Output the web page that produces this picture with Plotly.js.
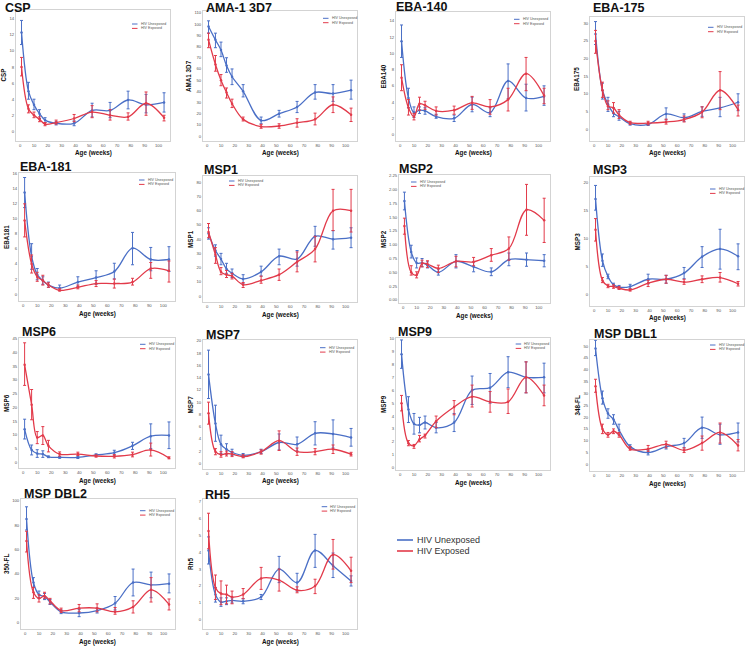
<!DOCTYPE html>
<html><head><meta charset="utf-8">
<script src="https://cdn.plot.ly/plotly-3.0.1.min.js"></script>
<style>html,body{margin:0;padding:0;background:#fff;} #chart{width:750px;height:646px;}</style>
</head><body><div id="chart"></div>
<script>
// ---------- DATA ----------
const weeks = [1, 6, 10, 14, 18, 26, 39, 52, 65, 78, 91, 104];
const seriesNames = ["HIV Unexposed", "HIV Exposed"];
const panelTitles = ["CSP", "AMA-1 3D7", "EBA-140", "EBA-175", "EBA-181", "MSP1", "MSP2", "MSP3", "MSP6", "MSP7", "MSP9", "MSP DBL1", "MSP DBL2", "RH5"];
const yAxisTitles = ["CSP", "AMA1 3D7", "EBA140", "EBA175", "EBA181", "MSP1", "MSP2", "MSP3", "MSP6", "MSP7", "MSP9", "348-FL", "350-FL", "Rh5"];
const xAxisTitle = "Age (weeks)";
const xTickLabels = [0, 10, 20, 30, 40, 50, 60, 70, 80, 90, 100];

const cspUnexposedMean = [12.3, 5.0, 3.3, 2.2, 1.4, 1.0, 1.0, 2.6, 2.6, 3.9, 3.3, 3.6];
const cspUnexposedLow  = [10.8, 4.0, 2.7, 1.6, 1.1, 0.8, 0.7, 1.8, 1.7, 2.8, 2.3, 2.4];
const cspUnexposedHigh = [13.8, 6.1, 4.0, 2.7, 1.7, 1.2, 1.3, 3.5, 3.6, 5.0, 4.6, 4.8];
const cspExposedMean = [8.0, 2.8, 2.0, 1.5, 0.9, 1.1, 1.6, 2.4, 2.0, 1.8, 3.5, 1.7];
const cspExposedLow  = [6.9, 2.3, 1.7, 1.2, 0.7, 0.9, 1.2, 1.7, 1.4, 1.4, 2.0, 1.3];
const cspExposedHigh = [9.2, 3.3, 2.4, 1.8, 1.1, 1.4, 2.1, 3.2, 2.7, 2.3, 4.9, 2.0];

const amaUnexposedMean = [98, 86, 77, 63, 53, 40, 14, 20, 26, 39, 38, 41];
const amaUnexposedLow  = [92, 79, 71, 57, 46, 35, 11, 17, 21, 33, 31, 33];
const amaUnexposedHigh = [103, 92, 84, 70, 60, 46, 17, 23, 31, 46, 46, 50];
const amaExposedMean = [86, 64, 50, 39, 29, 15, 8.5, 9, 12, 15, 28, 19];
const amaExposedLow  = [79, 58, 45, 34, 25.5, 13.5, 7, 7, 8, 10, 21, 13];
const amaExposedHigh = [92, 72, 55, 43, 33, 17, 10.5, 11, 15.5, 20.5, 35, 25];

const eba140UnexposedMean = [11.5, 4.5, 2.7, 3.0, 2.9, 2.2, 2.0, 3.7, 2.7, 6.6, 4.5, 4.7];
const eba140UnexposedLow  = [9.5, 3.3, 2.1, 2.6, 2.5, 2.0, 1.6, 2.8, 2.2, 4.4, 2.9, 3.6];
const eba140UnexposedHigh = [13.5, 5.7, 3.4, 3.4, 3.3, 2.5, 2.4, 4.6, 3.3, 8.7, 6.2, 6.0];
const eba140ExposedMean = [7.0, 3.3, 2.2, 3.8, 3.6, 2.9, 3.0, 3.9, 3.4, 4.3, 7.5, 4.8];
const eba140ExposedLow  = [5.4, 2.4, 1.8, 3.0, 3.1, 2.4, 2.5, 3.1, 2.5, 2.9, 5.4, 3.8];
const eba140ExposedHigh = [8.6, 4.3, 2.6, 4.6, 4.1, 3.4, 3.5, 4.7, 4.3, 5.7, 9.5, 5.7];

const eba175UnexposedMean = [27, 11, 7, 4.5, 3.5, 1.5, 1.3, 4.3, 3.2, 5, 6, 7.6];
const eba175UnexposedLow  = [24, 8.5, 5, 3.5, 2.5, 1.1, 1.0, 2.6, 2.2, 3.6, 3.5, 5.2];
const eba175UnexposedHigh = [30.5, 13, 9, 6, 5, 1.9, 1.6, 6, 4.3, 6.3, 9, 10];
const eba175ExposedMean = [25, 11, 6.5, 6, 4, 1.8, 1.7, 2, 2.7, 4.8, 11, 5.5];
const eba175ExposedLow  = [21.5, 9, 5.5, 4.5, 3, 1.3, 1.2, 1.4, 2, 3.2, 5.5, 3.7];
const eba175ExposedHigh = [28, 13.3, 8, 7.5, 5.5, 2.2, 2.2, 2.8, 3.7, 6.3, 16.3, 6.8];

const eba181UnexposedMean = [13.5, 5.0, 2.6, 1.8, 1.2, 0.8, 1.6, 2.2, 3.0, 6.1, 4.6, 4.6];
const eba181UnexposedLow  = [11.5, 3.3, 1.9, 1.3, 0.9, 0.5, 1.0, 1.3, 2.0, 3.9, 3.1, 3.0];
const eba181UnexposedHigh = [15.5, 6.7, 3.4, 2.3, 1.6, 1.2, 2.3, 3.1, 4.1, 8.2, 6.2, 6.3];
const eba181ExposedMean = [9.8, 4.0, 2.3, 1.8, 1.2, 0.5, 0.9, 1.4, 1.4, 1.6, 3.4, 3.1];
const eba181ExposedLow  = [7.6, 2.8, 1.7, 1.2, 0.9, 0.4, 0.7, 1.0, 0.8, 1.2, 2.1, 1.6];
const eba181ExposedHigh = [12.0, 5.2, 2.9, 2.5, 1.5, 0.7, 1.2, 1.8, 2.0, 2.1, 4.2, 4.4];

const msp1UnexposedMean = [44, 32, 26, 19, 16, 12, 17, 28, 26, 42, 40, 41];
const msp1UnexposedLow  = [40, 28, 22, 16, 13, 9, 14, 22, 21, 35, 33, 34];
const msp1UnexposedHigh = [48, 36, 30, 23, 19, 15, 21, 33, 32, 49, 46, 48];
const msp1ExposedMean = [45, 29, 17, 15, 14, 8, 11, 15, 24, 33, 60, 60];
const msp1ExposedLow  = [41, 23, 15, 13, 12, 6, 9, 11, 17, 24, 46, 45];
const msp1ExposedHigh = [51, 34, 20, 18, 16, 9.5, 14, 19, 31, 42, 75, 75];

const msp2UnexposedMean = [1.79, 0.87, 0.67, 0.67, 0.63, 0.50, 0.70, 0.60, 0.51, 0.73, 0.73, 0.71];
const msp2UnexposedLow  = [1.63, 0.76, 0.58, 0.60, 0.58, 0.45, 0.58, 0.51, 0.44, 0.62, 0.61, 0.60];
const msp2UnexposedHigh = [1.95, 0.99, 0.76, 0.75, 0.69, 0.56, 0.82, 0.69, 0.58, 0.85, 0.85, 0.82];
const msp2ExposedMean = [1.34, 0.50, 0.45, 0.66, 0.65, 0.57, 0.70, 0.69, 0.81, 0.93, 1.63, 1.44];
const msp2ExposedLow  = [1.19, 0.45, 0.40, 0.60, 0.59, 0.50, 0.60, 0.62, 0.70, 0.72, 1.17, 1.04];
const msp2ExposedHigh = [1.48, 0.62, 0.51, 0.72, 0.71, 0.63, 0.79, 0.77, 0.93, 1.14, 2.09, 1.84];

const msp3UnexposedMean = [17, 6, 3.2, 1.7, 1.3, 1.4, 2.7, 2.7, 3.8, 6.7, 8.1, 6.8];
const msp3UnexposedLow  = [15, 5, 2.8, 1.4, 1.0, 1.0, 1.9, 2.0, 2.8, 4.8, 4.5, 4.4];
const msp3UnexposedHigh = [19.4, 7.2, 3.6, 2.0, 1.6, 1.8, 3.6, 3.4, 4.8, 8.5, 11.6, 9.0];
const msp3ExposedMean = [11.5, 2.5, 1.5, 1.4, 1.1, 0.8, 2.0, 2.7, 2.2, 2.7, 3.0, 1.9];
const msp3ExposedLow  = [9.5, 2.1, 1.2, 1.1, 0.9, 0.6, 1.4, 2.0, 1.8, 2.1, 2.2, 1.5];
const msp3ExposedHigh = [13.5, 3.0, 1.8, 1.7, 1.4, 1.0, 2.5, 3.4, 2.7, 3.3, 3.9, 2.3];

const msp6UnexposedMean = [12, 4.5, 3.2, 3.0, 2.0, 1.8, 1.8, 2.7, 3.5, 6.0, 9.5, 9.8];
const msp6UnexposedLow  = [8.5, 2.7, 1.8, 1.8, 1.7, 1.5, 1.4, 2.3, 2.6, 4.7, 5.0, 5.0];
const msp6UnexposedHigh = [15.7, 6.3, 4.6, 4.2, 2.3, 2.1, 2.2, 3.1, 4.4, 7.3, 14.0, 14.7];
const msp6ExposedMean = [35.5, 21, 9.0, 9.8, 6.0, 3.0, 3.0, 2.3, 2.2, 2.8, 4.5, 1.6];
const msp6ExposedLow  = [28, 15.5, 6.8, 6.5, 3.8, 2.3, 2.5, 1.9, 1.6, 2.0, 2.3, 1.3];
const msp6ExposedHigh = [43.5, 26.5, 11.2, 13.0, 8.0, 3.8, 3.7, 2.7, 2.8, 3.7, 7.0, 2.0];

const msp7UnexposedMean = [14.5, 6.5, 3.1, 2.3, 1.8, 1.3, 1.9, 3.4, 3.1, 4.9, 4.8, 4.2];
const msp7UnexposedLow  = [10.6, 3.6, 1.6, 1.5, 1.3, 1.0, 1.6, 2.2, 2.0, 3.0, 2.5, 2.8];
const msp7UnexposedHigh = [18.5, 9.5, 4.6, 3.2, 2.3, 1.6, 2.3, 4.8, 4.3, 6.8, 7.1, 5.7];
const msp7ExposedMean = [8.2, 1.9, 1.4, 1.6, 1.5, 1.1, 1.9, 3.7, 1.9, 1.9, 2.3, 1.5];
const msp7ExposedLow  = [6.4, 1.4, 1.0, 1.2, 1.1, 0.9, 1.5, 2.1, 1.3, 1.4, 1.6, 1.2];
const msp7ExposedHigh = [10.0, 2.4, 1.9, 2.0, 1.9, 1.4, 2.2, 5.3, 2.5, 2.4, 3.0, 1.8];

const msp9UnexposedMean = [8.8, 4.5, 3.4, 3.3, 3.5, 3.1, 3.5, 6.0, 6.2, 7.4, 7.0, 7.0];
const msp9UnexposedLow  = [7.7, 3.5, 2.6, 2.7, 3.0, 2.7, 2.8, 4.9, 5.0, 6.2, 5.8, 5.8];
const msp9UnexposedHigh = [9.9, 5.5, 4.2, 3.9, 4.0, 3.5, 4.2, 7.1, 7.3, 8.6, 8.2, 8.1];
const msp9ExposedMean = [5.0, 1.9, 1.7, 2.2, 2.5, 3.6, 4.7, 5.5, 5.1, 5.1, 7.0, 5.6];
const msp9ExposedLow  = [4.4, 1.7, 1.5, 2.0, 2.3, 3.1, 4.1, 4.7, 4.3, 4.2, 5.8, 4.8];
const msp9ExposedHigh = [5.6, 2.1, 1.8, 2.5, 2.6, 4.0, 5.2, 6.4, 5.9, 6.1, 8.2, 6.4];

const dbl1UnexposedMean = [49, 28, 21.5, 19, 14.5, 7.5, 5, 7.5, 9, 15.5, 12.5, 13.5];
const dbl1UnexposedLow  = [46, 25.5, 19.5, 17, 12.5, 6.8, 4, 6.5, 7, 11, 8.5, 9.5];
const dbl1UnexposedHigh = [52.5, 31, 23.5, 21, 17, 8.3, 6, 8.5, 11, 20, 17, 17.5];
const dbl1ExposedMean = [33, 15, 12.5, 14, 12.5, 6.5, 6.5, 8.5, 6, 9, 13.5, 8];
const dbl1ExposedLow  = [30.5, 13, 11.5, 13, 11.5, 6, 5.5, 7, 5, 6, 9, 5.7];
const dbl1ExposedHigh = [36, 17, 13.5, 15, 13.5, 7.5, 8, 9.8, 7, 12, 17.5, 10.5];

const dbl2UnexposedMean = [85, 33, 23, 21.5, 17, 9, 8, 10, 16, 33, 31, 32];
const dbl2UnexposedLow  = [76, 29, 20, 19, 15, 7.5, 5, 8, 10.5, 22, 20.5, 24.5];
const dbl2UnexposedHigh = [95, 37, 26, 24, 19, 10.5, 11, 12, 21.5, 44, 41.5, 40];
const dbl2ExposedMean = [67, 25, 20, 22, 18, 10, 12, 12, 9, 13, 27, 15];
const dbl2ExposedLow  = [58, 20, 17, 20, 15.5, 8.5, 9, 9, 7, 8, 17, 10.5];
const dbl2ExposedHigh = [75, 29, 23, 25, 20, 12, 15, 15.5, 12.5, 18, 37, 19.5];

const rh5UnexposedMean = [4.1, 1.5, 1.05, 1.1, 1.15, 1.1, 1.35, 3.0, 2.2, 4.1, 3.2, 2.3];
const rh5UnexposedLow  = [3.3, 1.05, 0.8, 0.9, 1.0, 0.95, 1.2, 2.2, 1.7, 3.1, 2.5, 2.0];
const rh5UnexposedHigh = [4.9, 1.9, 1.3, 1.3, 1.3, 1.25, 1.5, 3.75, 2.75, 5.05, 3.95, 2.6];
const rh5ExposedMean = [5.25, 1.9, 1.55, 1.5, 1.35, 1.5, 2.45, 2.35, 1.75, 2.0, 3.85, 2.9];
const rh5ExposedLow  = [4.2, 1.2, 0.9, 0.95, 0.95, 1.25, 1.8, 1.7, 1.6, 1.55, 3.0, 2.2];
const rh5ExposedHigh = [6.3, 2.65, 2.3, 2.05, 1.7, 1.85, 3.1, 3.0, 1.95, 2.4, 4.75, 3.7];

// ---------- BUILD ----------
const panelSeries = [
  [[cspUnexposedMean, cspUnexposedLow, cspUnexposedHigh], [cspExposedMean, cspExposedLow, cspExposedHigh]],
  [[amaUnexposedMean, amaUnexposedLow, amaUnexposedHigh], [amaExposedMean, amaExposedLow, amaExposedHigh]],
  [[eba140UnexposedMean, eba140UnexposedLow, eba140UnexposedHigh], [eba140ExposedMean, eba140ExposedLow, eba140ExposedHigh]],
  [[eba175UnexposedMean, eba175UnexposedLow, eba175UnexposedHigh], [eba175ExposedMean, eba175ExposedLow, eba175ExposedHigh]],
  [[eba181UnexposedMean, eba181UnexposedLow, eba181UnexposedHigh], [eba181ExposedMean, eba181ExposedLow, eba181ExposedHigh]],
  [[msp1UnexposedMean, msp1UnexposedLow, msp1UnexposedHigh], [msp1ExposedMean, msp1ExposedLow, msp1ExposedHigh]],
  [[msp2UnexposedMean, msp2UnexposedLow, msp2UnexposedHigh], [msp2ExposedMean, msp2ExposedLow, msp2ExposedHigh]],
  [[msp3UnexposedMean, msp3UnexposedLow, msp3UnexposedHigh], [msp3ExposedMean, msp3ExposedLow, msp3ExposedHigh]],
  [[msp6UnexposedMean, msp6UnexposedLow, msp6UnexposedHigh], [msp6ExposedMean, msp6ExposedLow, msp6ExposedHigh]],
  [[msp7UnexposedMean, msp7UnexposedLow, msp7UnexposedHigh], [msp7ExposedMean, msp7ExposedLow, msp7ExposedHigh]],
  [[msp9UnexposedMean, msp9UnexposedLow, msp9UnexposedHigh], [msp9ExposedMean, msp9ExposedLow, msp9ExposedHigh]],
  [[dbl1UnexposedMean, dbl1UnexposedLow, dbl1UnexposedHigh], [dbl1ExposedMean, dbl1ExposedLow, dbl1ExposedHigh]],
  [[dbl2UnexposedMean, dbl2UnexposedLow, dbl2UnexposedHigh], [dbl2ExposedMean, dbl2ExposedLow, dbl2ExposedHigh]],
  [[rh5UnexposedMean, rh5UnexposedLow, rh5UnexposedHigh], [rh5ExposedMean, rh5ExposedLow, rh5ExposedHigh]]
];

// layout geometry (pixels): frame [left, right, top, bottom], y range, dtick, format, title pos, inner legend pos, y-title offset
const geom = [
  {f:[16,170,10,141],  yr:[-1.2,15.1],  dt:2,    tf:'d',   tp:[3,8],     lg:[132,24],   yo:13},
  {f:[203,357,11,141], yr:[-4.4,111.8], dt:10,   tf:'d',   tp:[204,8],   lg:[323,18.3], yo:15},
  {f:[396,550,12,141], yr:[-0.8,15.1],  dt:2,    tf:'d',   tp:[394,7],   lg:[514,19.3], yo:13},
  {f:[590,744,17,141], yr:[-3.4,31.8],  dt:5,    tf:'d',   tp:[591,7.5], lg:[708,27.3], yo:13},
  {f:[19,175,173,301], yr:[-0.92,16.1], dt:2,    tf:'d',   tp:[18,167],  lg:[139,180],  yo:13},
  {f:[203,357,176,302],yr:[-4.2,84.4],  dt:10,   tf:'d',   tp:[202,170.5],lg:[229,181], yo:13},
  {f:[399,550,175,303],yr:[-0.054,2.26],dt:0.25, tf:'.2f', tp:[397,169.5],lg:[411,182], yo:16},
  {f:[590,744,177,306],yr:[-2.06,20.9], dt:5,    tf:'d',   tp:[591,170.5],lg:[710,189], yo:13},
  {f:[19,175,338,468], yr:[-2.06,45.25],dt:5,    tf:'d',   tp:[20,332],  lg:[140,344.3],yo:13},
  {f:[203,357,340,469],yr:[-0.93,20.16],dt:2,    tf:'d',   tp:[204,335], lg:[320,347.7],yo:13},
  {f:[396,550,338,470],yr:[-0.18,10.05],dt:1,    tf:'d',   tp:[396,332.5],lg:[515.7,344],yo:13},
  {f:[590,744,340,471],yr:[-2.8,52.6],  dt:5,    tf:'d',   tp:[592,333.5],lg:[710,345], yo:13},
  {f:[21,175,499,629], yr:[-5.1,101.4], dt:20,   tf:'d',   tp:[22,494],  lg:[140,510.7],yo:15},
  {f:[203,357,499,629],yr:[-0.54,7.14], dt:1,    tf:'d',   tp:[203,494.5],lg:[321.7,506.7],yo:13}
];

const W = 750, H = 646;
const px = x => x / W;
const py = y => 1 - y / H;
const colors = ['#4a6fc6', '#e23a4a'];
const traces = [];
const layout = {
  width: W, height: H, margin: {l:0, r:0, t:0, b:0},
  paper_bgcolor: '#ffffff', plot_bgcolor: '#ffffff',
  showlegend: false, annotations: [], shapes: [],
  font: {family: 'Liberation Sans, Arial, sans-serif', color: '#333'}
};

geom.forEach((g, i) => {
  const n = i + 1;
  const xa = n === 1 ? 'x' : 'x' + n;
  const ya = n === 1 ? 'y' : 'y' + n;
  const [l, r, t, b] = g.f;
  layout[n === 1 ? 'xaxis' : 'xaxis' + n] = {
    domain: [px(l), px(r)], anchor: ya, range: [-3, 108.3],
    tickmode: 'array', tickvals: xTickLabels, ticktext: xTickLabels.map(String),
    showgrid: false, zeroline: false, showline: true, mirror: true,
    linecolor: '#d3d3d3', linewidth: 1, ticks: '',
    tickfont: {size: 4.2, color: '#555'}
  };
  layout[n === 1 ? 'yaxis' : 'yaxis' + n] = {
    domain: [py(b), py(t)], anchor: xa, range: g.yr,
    tick0: 0, dtick: g.dt, tickformat: g.tf,
    showgrid: false, zeroline: false, showline: true, mirror: true,
    linecolor: '#d3d3d3', linewidth: 1, ticks: '',
    tickfont: {size: 4.2, color: '#555'}
  };
  panelSeries[i].forEach((s, k) => {
    const [mean, lo, hi] = s;
    traces.push({
      type: 'scatter', mode: 'lines+markers', x: weeks, y: mean,
      xaxis: xa, yaxis: ya, name: seriesNames[k],
      line: {color: colors[k], width: 1.3, shape: 'spline', smoothing: 1},
      marker: {color: colors[k], size: 2.5},
      error_y: {type: 'data', symmetric: false,
        array: hi.map((v, j) => v - mean[j]),
        arrayminus: lo.map((v, j) => mean[j] - v),
        color: colors[k], thickness: 1, width: 1.5},
      cliponaxis: false
    });
  });
  // panel title
  layout.annotations.push({xref:'paper', yref:'paper', x: px(g.tp[0]), y: py(g.tp[1]),
    xanchor:'left', yanchor:'middle', showarrow:false,
    text: '<b>' + panelTitles[i] + '</b>', font:{size:12.5, color:'#111', family:'Liberation Sans, Arial, sans-serif'}});
  // y title
  layout.annotations.push({xref:'paper', yref:'paper', x: px(l - g.yo), y: py((t + b) / 2),
    xanchor:'center', yanchor:'middle', showarrow:false, textangle:-90,
    text: '<b>' + yAxisTitles[i] + '</b>', font:{size:6.3, color:'#111'}});
  // x title
  layout.annotations.push({xref:'paper', yref:'paper', x: px((l + r) / 2), y: py(b + 12.5),
    xanchor:'center', yanchor:'middle', showarrow:false,
    text: '<b>' + xAxisTitle + '</b>', font:{size:6.3, color:'#111'}});
  // inner legend
  seriesNames.forEach((nm, k) => {
    const yy = g.lg[1] + k * 4.4;
    layout.shapes.push({type:'line', xref:'paper', yref:'paper',
      x0: px(g.lg[0]), x1: px(g.lg[0] + 5.5), y0: py(yy), y1: py(yy),
      line:{color: colors[k], width: 1}});
    layout.annotations.push({xref:'paper', yref:'paper', x: px(g.lg[0] + 6.5), y: py(yy),
      xanchor:'left', yanchor:'middle', showarrow:false, text: nm,
      font:{size:3.6, color:'#555'}});
  });
});

// main legend
seriesNames.forEach((nm, k) => {
  const yy = 540 + k * 11;
  layout.shapes.push({type:'line', xref:'paper', yref:'paper',
    x0: px(397), x1: px(413), y0: py(yy), y1: py(yy), line:{color: colors[k], width: 1.6}});
  layout.annotations.push({xref:'paper', yref:'paper', x: px(415), y: py(yy),
    xanchor:'left', yanchor:'middle', showarrow:false, text: nm,
    font:{size:9, color:'#333', family:'Liberation Sans, Arial, sans-serif'}});
});

Plotly.newPlot('chart', traces, layout, {staticPlot: true, displayModeBar: false});
</script>
</body></html>
